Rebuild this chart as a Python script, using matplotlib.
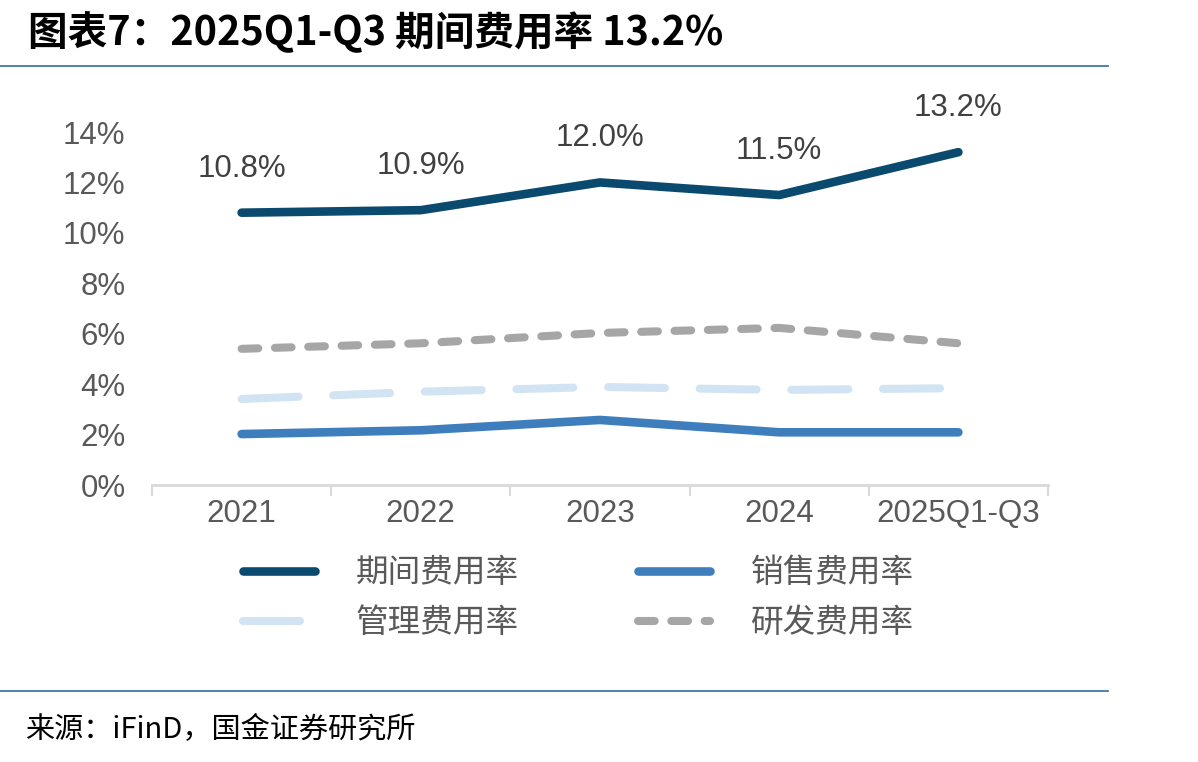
import matplotlib
matplotlib.use("Agg")
import matplotlib.pyplot as plt
from matplotlib.lines import Line2D

plt.rcParams['font.family'] = ['Liberation Sans', 'Noto Sans CJK SC', 'DejaVu Sans']
plt.rcParams['lines.scale_dashes'] = False

categories = ["2021", "2022", "2023", "2024", "2025Q1-Q3"]
period_rate = [10.8, 10.9, 12.0, 11.5, 13.2]
sales_rate = [2.02, 2.17, 2.58, 2.09, 2.09]
admin_rate = [3.41, 3.70, 3.89, 3.77, 3.84]
rd_rate = [5.40, 5.62, 6.03, 6.23, 5.62]
period_labels = ["10.8%", "10.9%", "12.0%", "11.5%", "13.2%"]
yticks = [0, 2, 4, 6, 8, 10, 12, 14]
series_names = ["期间费用率", "销售费用率", "管理费用率", "研发费用率"]

W, H = 1198, 762
fig = plt.figure(figsize=(W / 100, H / 100), dpi=100)
ax = fig.add_axes([152 / W, 1 - 485 / H, (1048 - 152) / W, (485 - 132) / H])

x = list(range(len(categories)))
c_period = "#0B4A6F"
c_sales = "#3F7EBD"
c_admin = "#D2E4F3"
c_rd = "#A6A6A6"

l_admin, = ax.plot(x, admin_rate, color=c_admin, lw=5.8, dash_capstyle='round',
                   solid_capstyle='round', dashes=(41, 25), clip_on=False)
l_rd, = ax.plot(x, rd_rate, color=c_rd, lw=5.8, dash_capstyle='round',
                dashes=(12, 12), clip_on=False)
l_sales, = ax.plot(x, sales_rate, color=c_sales, lw=6.2, solid_capstyle='round',
                   solid_joinstyle='round', clip_on=False)
l_period, = ax.plot(x, period_rate, color=c_period, lw=6.2, solid_capstyle='round',
                    solid_joinstyle='round', clip_on=False)

for xi, yi, lab in zip(x, period_rate, period_labels):
    ax.annotate(lab, (xi, yi), xytext=(0, 21), textcoords='offset points',
                ha='center', va='bottom', fontsize=22.5, color="#404040",
                annotation_clip=False)

ax.set_xlim(-0.5, len(categories) - 0.5)
ax.set_ylim(0, 14)
ax.set_yticks(yticks)
ax.set_yticklabels([f"{v}%" for v in yticks])
ax.set_xticks(x)
ax.set_xticklabels(categories)
ax.set_xticks([i - 0.5 for i in range(len(categories) + 1)], minor=True)
ax.tick_params(axis='y', length=0, labelsize=22.5, labelcolor="#595959", pad=19)
ax.tick_params(axis='x', which='major', length=0, labelsize=22.5, labelcolor="#595959", pad=10)
ax.tick_params(axis='x', which='minor', length=8, width=1.5, color="#D9D9D9")
for s in ['top', 'right', 'left']:
    ax.spines[s].set_visible(False)
ax.spines['bottom'].set_color("#D9D9D9")
ax.spines['bottom'].set_linewidth(2)
ax.patch.set_alpha(0)

# column-major fill: col1 = period, admin ; col2 = sales, rd
handles = [l_period, l_admin, l_sales, l_rd]
labels = [series_names[0], series_names[2], series_names[1], series_names[3]]
leg = fig.legend(handles, labels, loc='upper left',
                 bbox_to_anchor=(214 / W, 1 - 528 / H), ncol=2, frameon=False,
                 prop={'family': ['Noto Sans CJK SC'], 'size': 23.5},
                 handlelength=2.2, handletextpad=1.25, columnspacing=3.65,
                 labelspacing=0.55, labelcolor="#595959")

# title and rules
fig.text(28 / W, 1 - 33 / H, "图表7：2025Q1-Q3 期间费用率 13.2%",
         family=['Noto Sans CJK SC'], fontsize=28.5, fontweight='bold',
         style='italic', color='black', va='center', ha='left')
fig.add_artist(Line2D([0, 1108 / W], [1 - 66 / H, 1 - 66 / H], color="#3E7B9B", lw=1.3))
fig.add_artist(Line2D([0, 1108 / W], [1 - 691 / H, 1 - 691 / H], color="#3E7B9B", lw=1.3))
fig.text(25 / W, 1 - 730 / H, "来源：iFinD，国金证券研究所",
         family=['Noto Sans CJK SC'], fontsize=21, color='black', va='center', ha='left')

fig.savefig("out.png", dpi=100)
